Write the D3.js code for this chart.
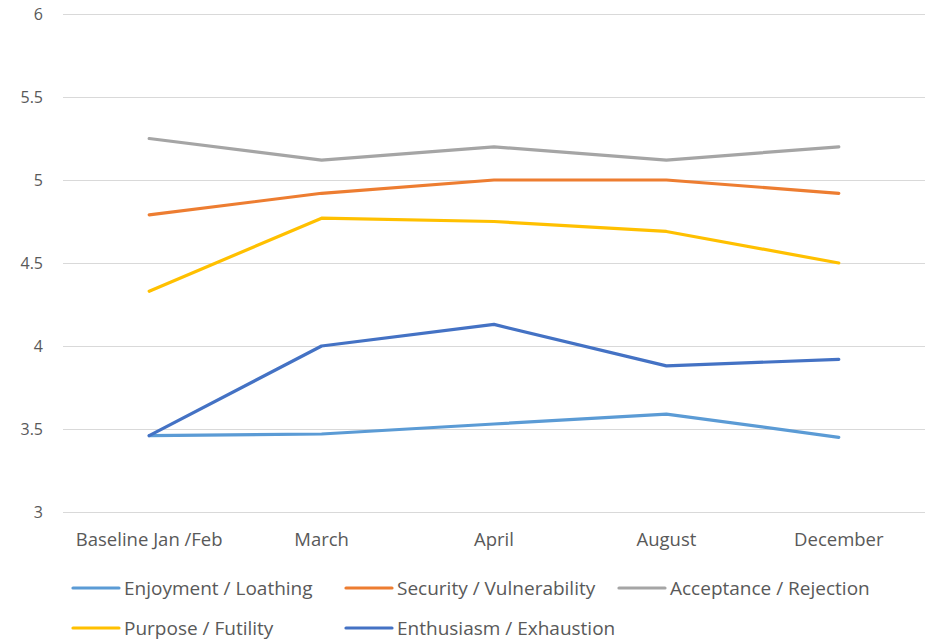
<!DOCTYPE html>
<html>
<head>
<meta charset="utf-8">
<script src="https://cdn.jsdelivr.net/npm/d3@7"></script>
<style>
  html, body { margin: 0; padding: 0; background: #fff; }
  svg text { font-family: "Open Sans", "Liberation Sans", sans-serif; fill: #595959; }
</style>
</head>
<body>
<svg id="chart" width="925" height="640"></svg>
<script>
const categories = ["Baseline Jan /Feb", "March", "April", "August", "December"];
const yTicks = [3, 3.5, 4, 4.5, 5, 5.5, 6];

const seriesNames = [
  "Enjoyment / Loathing",
  "Security / Vulnerability",
  "Acceptance / Rejection",
  "Purpose / Futility",
  "Enthusiasm / Exhaustion"
];
const enjoyment  = [3.46, 3.47, 3.53, 3.59, 3.45];
const security   = [4.79, 4.92, 5.00, 5.00, 4.92];
const acceptance = [5.25, 5.12, 5.20, 5.12, 5.20];
const purpose    = [4.33, 4.77, 4.75, 4.69, 4.50];
const enthusiasm = [3.46, 4.00, 4.13, 3.88, 3.92];
const seriesColors = ["#5B9BD5", "#ED7D31", "#A5A5A5", "#FFC000", "#4472C4"];

const series = [enjoyment, security, acceptance, purpose, enthusiasm].map((values, i) => ({
  name: seriesNames[i], color: seriesColors[i], values
}));

const svg = d3.select("#chart");
const margin = { left: 63, right: 0, top: 14, bottom: 128 };
const width = 925, height = 640;

const x = d3.scaleBand().domain(categories).range([margin.left, width - margin.right]);
const y = d3.scaleLinear().domain([3, 6]).range([height - margin.bottom, margin.top]);

// horizontal gridlines
svg.append("g").selectAll("line").data(yTicks).join("line")
  .attr("x1", margin.left).attr("x2", width - margin.right)
  .attr("y1", d => Math.round(y(d)) + 0.5).attr("y2", d => Math.round(y(d)) + 0.5)
  .attr("stroke", "#d9d9d9").attr("stroke-width", 1);

// y axis labels
const yAxis = d3.axisLeft(y).tickValues(yTicks).tickSize(0).tickPadding(0)
  .tickFormat(d3.format("~g"));
const gy = svg.append("g").attr("transform", `translate(${margin.left - 20},0)`).call(yAxis);
gy.select(".domain").remove();
gy.selectAll("text").style("font-size", "16px").attr("fill", "#595959");

// x axis labels
const xAxis = d3.axisBottom(x).tickSize(0).tickPadding(0);
const gx = svg.append("g").attr("transform", `translate(0,${y(3) + 21})`).call(xAxis);
gx.select(".domain").remove();
gx.selectAll("text").style("font-size", "18.5px").attr("fill", "#595959").attr("dy", "0.71em");

// series lines
const line = d3.line()
  .x((d, i) => x(categories[i]) + x.bandwidth() / 2)
  .y(d => y(d));

svg.append("g").selectAll("path").data(series).join("path")
  .attr("d", d => line(d.values))
  .attr("fill", "none")
  .attr("stroke", d => d.color)
  .attr("stroke-width", 3.2)
  .attr("stroke-linejoin", "round")
  .attr("stroke-linecap", "round");

// legend
const legendPos = [
  { x: 73, y: 588 }, { x: 346, y: 588 }, { x: 619, y: 588 },
  { x: 73, y: 628 }, { x: 346, y: 628 }
];
const legend = svg.append("g").selectAll("g").data(series).join("g")
  .attr("transform", (d, i) => `translate(${legendPos[i].x},${legendPos[i].y})`);
legend.append("line")
  .attr("x1", 0).attr("x2", 46).attr("y1", 0).attr("y2", 0)
  .attr("stroke", d => d.color).attr("stroke-width", 3.2).attr("stroke-linecap", "round");
legend.append("text")
  .attr("x", 51).attr("y", 0).attr("dy", "0.35em")
  .style("font-size", "19px")
  .text(d => d.name);
</script>
</body>
</html>
